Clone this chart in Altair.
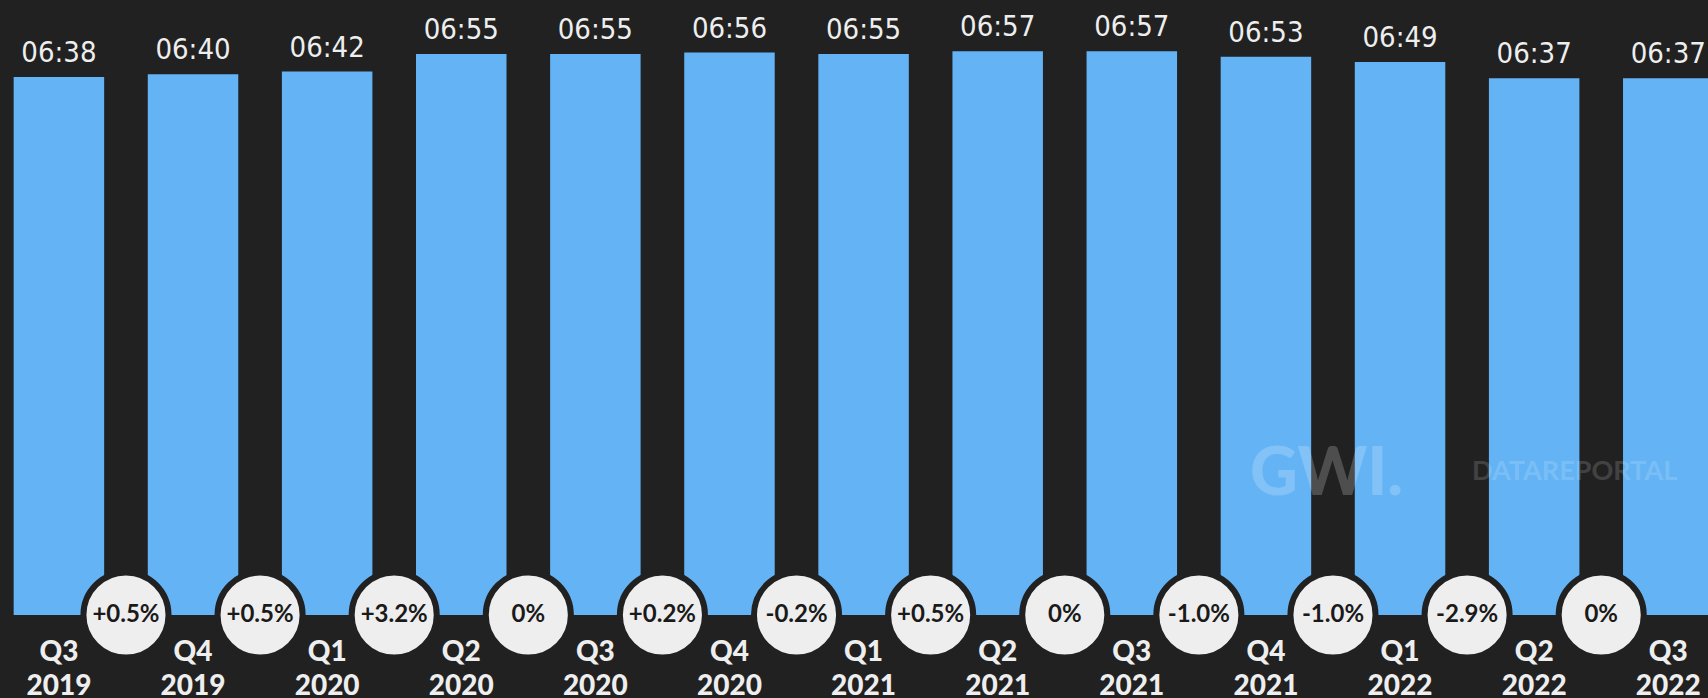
import altair as alt
import pandas as pd

quarters = ["Q3", "Q4", "Q1", "Q2", "Q3", "Q4", "Q1", "Q2", "Q3", "Q4", "Q1", "Q2", "Q3"]
years = ["2019", "2019", "2020", "2020", "2020", "2020", "2021", "2021", "2021", "2021", "2022", "2022", "2022"]
times = ["06:38", "06:40", "06:42", "06:55", "06:55", "06:56", "06:55", "06:57", "06:57", "06:53", "06:49", "06:37", "06:37"]
changes = ["+0.5%", "+0.5%", "+3.2%", "0%", "+0.2%", "-0.2%", "+0.5%", "0%", "-1.0%", "-1.0%", "-2.9%", "0%"]

minutes = [int(t.split(":")[0]) * 60 + int(t.split(":")[1]) for t in times]

bars_df = pd.DataFrame({
    "idx": list(range(len(quarters))),
    "quarter": quarters,
    "year": years,
    "time": times,
    "minutes": minutes,
})
chg_df = pd.DataFrame({
    "pos": [i + 0.5 for i in range(len(changes))],
    "change": changes,
})

BG = "#212121"
BAR = "#63b3f5"
LIGHT = "#eeeeee"

xscale = alt.Scale(domain=[-0.402, 12.259], nice=False, zero=False)
yscale = alt.Scale(domain=[-61.4, 454.9], nice=False, zero=False)

X = alt.X("idx:Q", scale=xscale, axis=None)
Y = alt.Y("minutes:Q", scale=yscale, axis=None)

base = alt.Chart(bars_df)

bars = base.mark_bar(color=BAR, width=90.5).encode(x=X, y=Y, y2=alt.datum(0))

values = base.mark_text(
    font="Liberation Sans Narrow, DejaVu Sans Condensed, Roboto Condensed, Roboto",
    fontSize=29, color=LIGHT, baseline="alphabetic", dy=-15,
).encode(x=X, y=Y, text="time:N")

qlab = base.mark_text(
    font="Lato", fontWeight=900, fontSize=28, color=LIGHT, baseline="middle",
).encode(x=X, y=alt.value(653), text="quarter:N")

ylab = base.mark_text(
    font="Lato", fontWeight=900, fontSize=28, color=LIGHT, baseline="middle",
).encode(x=X, y=alt.value(687), text="year:N")

wm_df = pd.DataFrame({"gwi": ["GWI."], "dr": ["DATAREPORTAL"]})
wm1 = alt.Chart(wm_df).mark_text(
    font="Lato", fontWeight=900, fontSize=66, color="#ffffff", opacity=0.2,
    align="left", baseline="alphabetic",
).encode(x=alt.value(1250), y=alt.value(495), text="gwi:N")
wm2 = alt.Chart(wm_df).mark_text(
    font="Lato", fontWeight="bold", fontSize=27, color="#ffffff", opacity=0.15,
    align="left", baseline="alphabetic",
).encode(x=alt.value(1472), y=alt.value(480), text="dr:N")

cbase = alt.Chart(chg_df)
XC = alt.X("pos:Q", scale=xscale, axis=None)
circles = cbase.mark_circle(
    size=7238, fill=LIGHT, stroke=BG, strokeWidth=6, opacity=1,
).encode(x=XC, y=alt.datum(0, scale=yscale))

ctext = cbase.mark_text(
    font="Lato", fontWeight="bold", fontSize=24, color="#1a1a1a", baseline="middle",
).encode(x=XC, y=alt.datum(0, scale=yscale), text="change:N")

chart = alt.layer(bars, wm1, wm2, values, qlab, ylab, circles, ctext).properties(
    width=1708, height=698, background=BG,
    autosize=alt.AutoSizeParams(type="none"), padding=0,
).configure_view(stroke=None)

chart.save("out.html", embed_options={"renderer": "svg", "actions": False})
